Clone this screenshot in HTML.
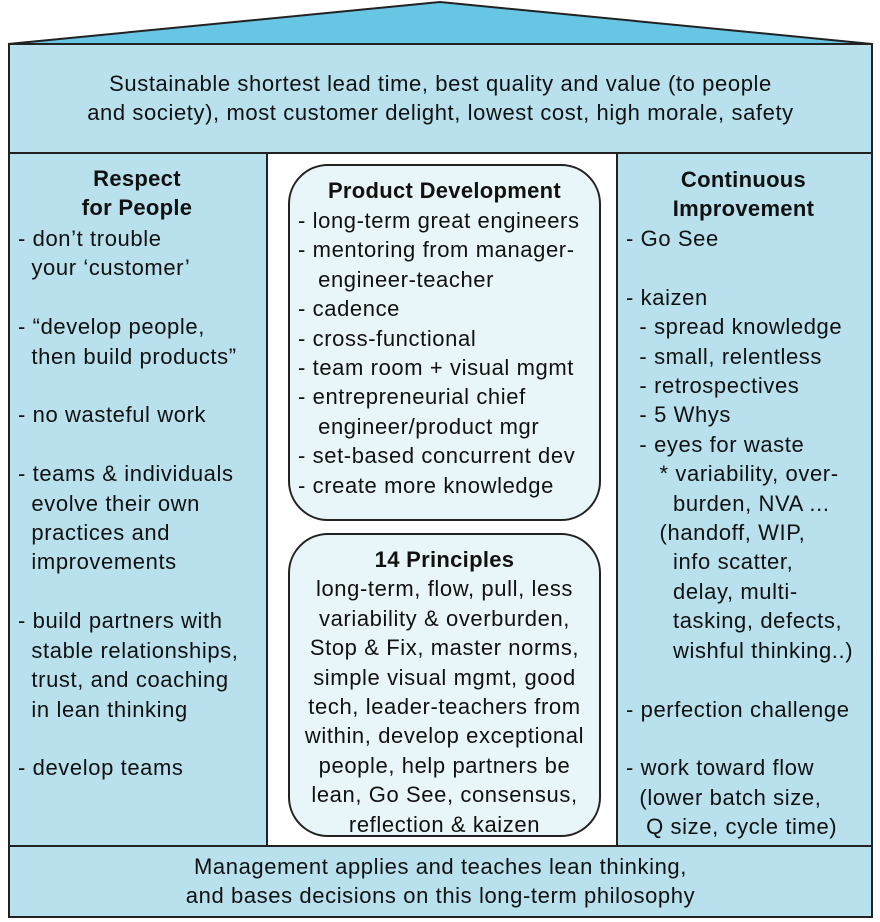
<!DOCTYPE html>
<html><head><meta charset="utf-8"><style>
body{margin:0;width:880px;height:922px;background:#fff;position:relative;font-family:"Liberation Sans",Arial,sans-serif;font-size:22px;letter-spacing:0.6px;color:#111;overflow:hidden}
.box{position:absolute;background:#b8e1ed;border:2px solid #222;box-sizing:border-box}
.rb{position:absolute;background:#e9f6f9;border:2px solid #222;border-radius:40px;box-sizing:border-box}
.t{position:absolute;white-space:pre;line-height:29.4px}
.c{text-align:center}
b{font-weight:bold;letter-spacing:0.3px}
</style></head><body>
<svg style="position:absolute;left:0;top:0" width="880" height="50"><polygon points="8,44 440,2 872,44" fill="#68c6e5" stroke="#222" stroke-width="2"/></svg>
<div class="box" style="left:8px;top:43px;width:865px;height:111px"></div>
<div class="box" style="left:8px;top:152px;width:260px;height:695px"></div>
<div class="box" style="left:266px;top:152px;width:352px;height:695px;background:#fff"></div>
<div class="box" style="left:616px;top:152px;width:257px;height:695px"></div>
<div class="box" style="left:8px;top:845px;width:865px;height:73px"></div>
<div class="rb" style="left:288px;top:164px;width:313px;height:357px"></div>
<div class="rb" style="left:288px;top:533px;width:313px;height:304px"></div>

<div class="t c" style="left:8px;width:865px;top:69px">Sustainable shortest lead time, best quality and value (to people
and society), most customer delight, lowest cost, high morale, safety</div>

<div class="t c" style="left:8px;width:258px;top:164px"><b>Respect
for People</b></div>
<div class="t" style="left:18px;top:224px">- don’t trouble
  your ‘customer’

- “develop people,
  then build products”

- no wasteful work

- teams &amp; individuals
  evolve their own
  practices and
  improvements

- build partners with
  stable relationships,
  trust, and coaching
  in lean thinking

- develop teams</div>

<div class="t c" style="left:288px;width:313px;top:176px"><b>Product Development</b></div>
<div class="t" style="left:298px;top:206px">- long-term great engineers
- mentoring from manager-
   engineer-teacher
- cadence
- cross-functional
- team room + visual mgmt
- entrepreneurial chief
   engineer/product mgr
- set-based concurrent dev
- create more knowledge</div>

<div class="t c" style="left:288px;width:313px;top:545px"><b>14 Principles</b>
long-term, flow, pull, less
variability &amp; overburden,
Stop &amp; Fix, master norms,
simple visual mgmt, good
tech, leader-teachers from
within, develop exceptional
people, help partners be
lean, Go See, consensus,
reflection &amp; kaizen</div>

<div class="t c" style="left:616px;width:255px;top:165px"><b>Continuous
Improvement</b></div>
<div class="t" style="left:626px;top:224px">- Go See

- kaizen
  - spread knowledge
  - small, relentless
  - retrospectives
  - 5 Whys
  - eyes for waste
     * variability, over-
       burden, NVA ...
     (handoff, WIP,
       info scatter,
       delay, multi-
       tasking, defects,
       wishful thinking..)

- perfection challenge

- work toward flow
  (lower batch size,
   Q size, cycle time)</div>

<div class="t c" style="left:8px;width:865px;top:852px">Management applies and teaches lean thinking,
and bases decisions on this long-term philosophy</div>
</body></html>
